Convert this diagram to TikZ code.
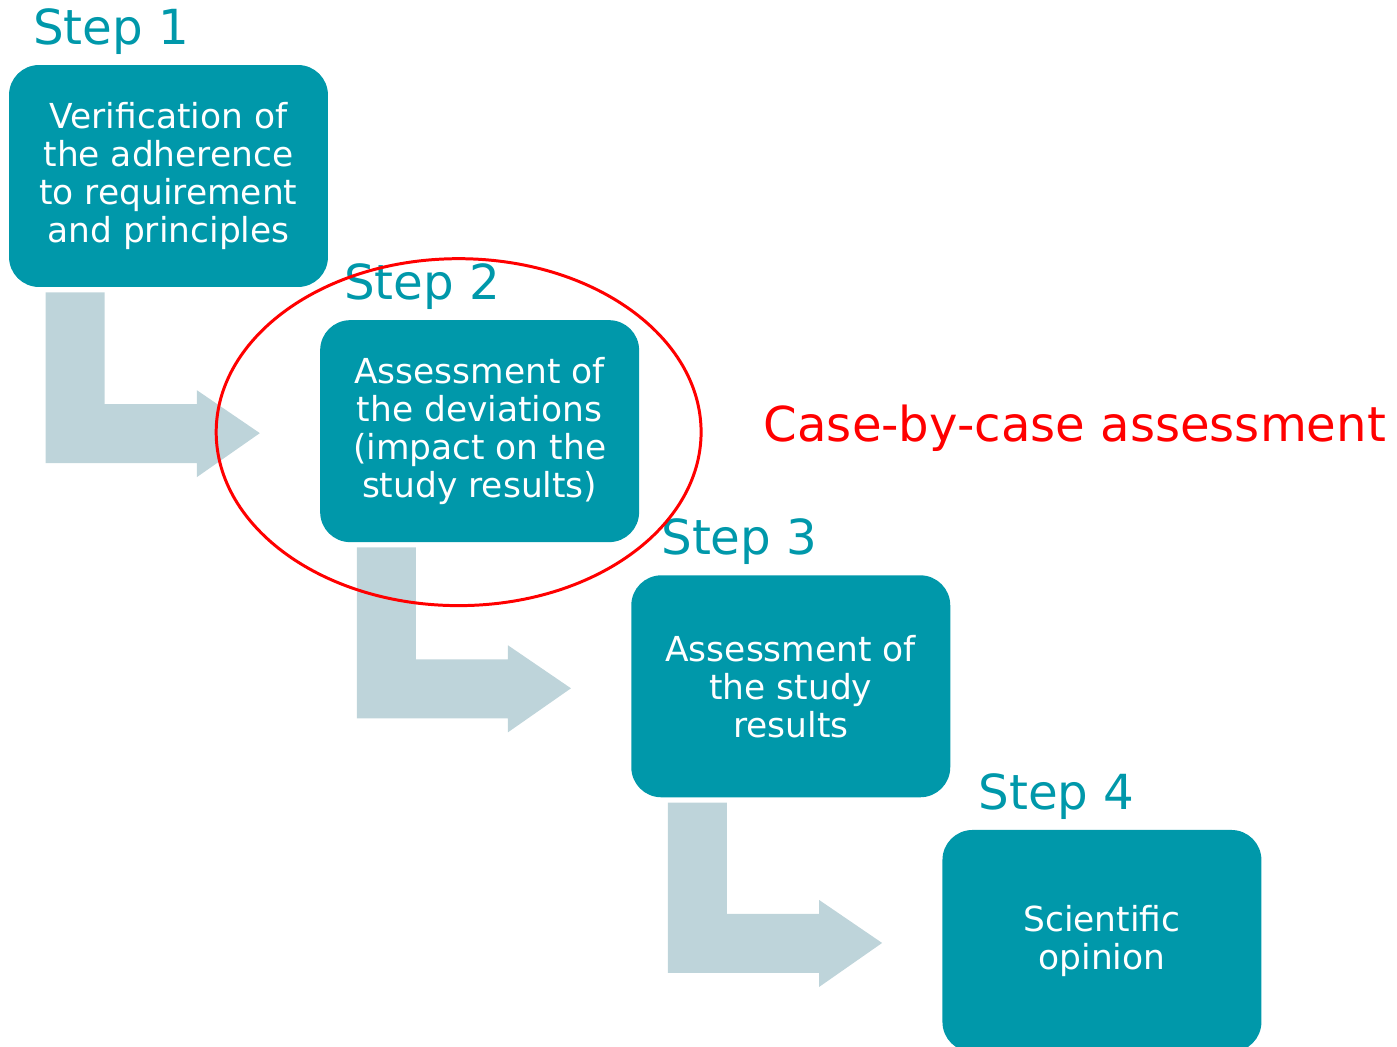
\documentclass[tikz,border=0pt]{standalone}
\usepackage{fontspec}
\setmainfont{DejaVu Sans}
\usetikzlibrary{positioning, calc}

\definecolor{stepteal}{RGB}{0,152,170}
\definecolor{flowgrey}{RGB}{190,212,218}

\begin{document}
\begin{tikzpicture}[
    x=0.02cm, y=-0.02cm,
    node distance=0.65cm and -0.17cm,
    stepbox/.style={rectangle, rounded corners=0.6cm, fill=stepteal, text=white, minimum width=6.38cm, minimum height=4.44cm, inner sep=0pt, align=center, font=\fontsize{19.6}{21.6}\selectfont},
    steplabel/.style={anchor=base west, text=stepteal, inner sep=0pt, font=\fontsize{27.5}{32}\selectfont},
    flow/.style={fill=flowgrey},
]
    \useasboundingbox (0,0) rectangle (1397,1047);

    % Step boxes, going down the stairs
    \node[stepbox] (s1) at (168.5,176) {Verification of\\the adherence\\to requirement\\and principles};
    \node[stepbox, below right=of s1] (s2) {Assessment of\\the deviations\\(impact on the\\study results)};
    \node[stepbox, below right=of s2] (s3) {Assessment of\\the study\\results};
    \node[stepbox, below right=0.64cm and -0.17cm of s3] (s4) {Scientific\\opinion};

    % Step titles
    \foreach \s/\n/\dx in {s1/1/24, s2/2/24, s3/3/30, s4/4/36}
        \node[steplabel] (l\n) at ($(\s.north west)+(\dx,-20)$) {Step \n};

    % Bent arrows between the boxes
    \foreach \a/\b in {s1/s2, s2/s3, s3/s4} {
        \coordinate (barl) at ($(\a.south west)+(37,5)$);
        \coordinate (barr) at ($(\a.south west)+(96,5)$);
        \coordinate (shtop) at ($(\b.west)+(-123,-27)$);
        \coordinate (shbot) at ($(\b.west)+(-123,32)$);
        \fill[flow] (barl) -- (barr) -- (barr |- shtop) -- (shtop)
            -- ($(\b.west)+(-123,-41)$) -- ($(\b.west)+(-60,2)$)
            -- ($(\b.west)+(-123,46)$) -- (shbot) -- (barl |- shbot) -- cycle;
    }

    % Highlight on step 2
    \node[anchor=base west, text=red, inner sep=0pt, font=\fontsize{27.4}{34}\selectfont] (case) at ($(s2.east)+(124,10)$) {Case-by-case assessment};
    \draw[red, line width=1.7pt] ($(s2.center)+(-21,1)$) ellipse [x radius=4.85cm, y radius=3.47cm];
\end{tikzpicture}
\end{document}
